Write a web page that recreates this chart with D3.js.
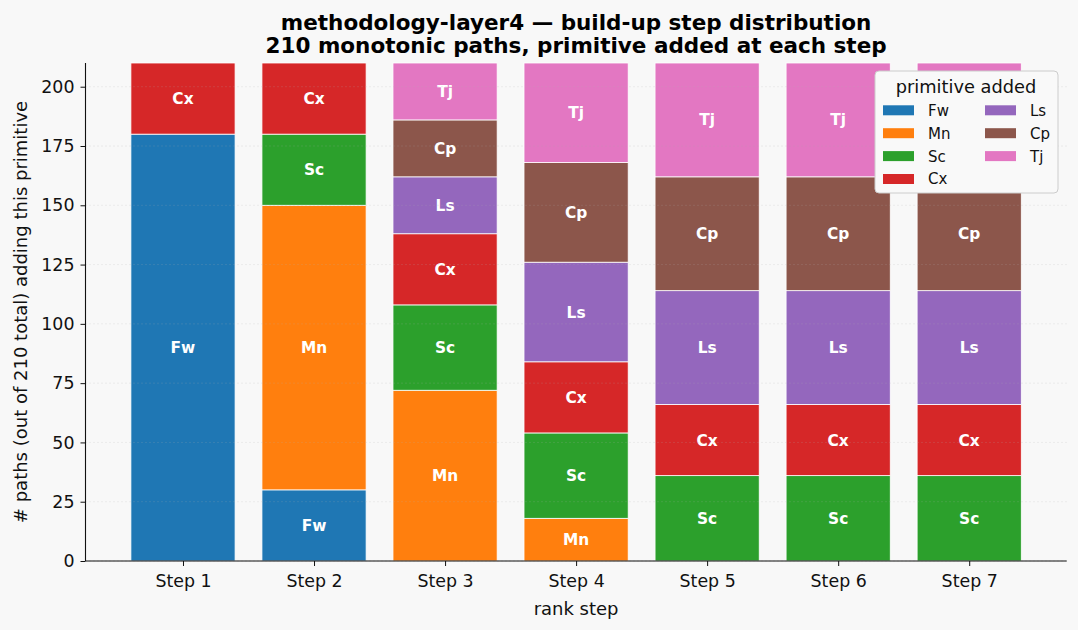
<!DOCTYPE html>
<html>
<head>
<meta charset="utf-8">
<script src="https://cdn.jsdelivr.net/npm/d3@7"></script>
<style>
  body { margin: 0; background: #f8f8f8; }
  svg { font-family: "DejaVu Sans", sans-serif; }
</style>
</head>
<body>
<div id="chart"></div>
<script>
// categories and series
const steps = ["Step 1", "Step 2", "Step 3", "Step 4", "Step 5", "Step 6", "Step 7"];
const primitives = ["Fw", "Mn", "Sc", "Cx", "Ls", "Cp", "Tj"];
const fwCounts = [180, 30, 0, 0, 0, 0, 0];
const mnCounts = [0, 120, 72, 18, 0, 0, 0];
const scCounts = [0, 30, 36, 36, 36, 36, 36];
const cxCounts = [30, 30, 30, 30, 30, 30, 30];
const lsCounts = [0, 0, 24, 42, 48, 48, 48];
const cpCounts = [0, 0, 24, 42, 48, 48, 48];
const tjCounts = [0, 0, 24, 42, 48, 48, 48];
const yTicks = [0, 25, 50, 75, 100, 125, 150, 175, 200];
const totalPaths = 210;

const colors = {
    Fw: "#1f77b4", Mn: "#ff7f0e", Sc: "#2ca02c", Cx: "#d62728",
    Ls: "#9467bd", Cp: "#8c564b", Tj: "#e377c2"
};

const seriesCounts = { Fw: fwCounts, Mn: mnCounts, Sc: scCounts, Cx: cxCounts, Ls: lsCounts, Cp: cpCounts, Tj: tjCounts };

// build rows for d3.stack
const rows = steps.map((s, i) => {
    let row = { step: s, idx: i };
    primitives.forEach(p => { row[p] = seriesCounts[p][i]; });
    return row;
});

const W = 1078, H = 630;
const margin = { top: 63, right: 11.3, bottom: 69, left: 85.5 };
const width = W - margin.left - margin.right;
const height = H - margin.top - margin.bottom;

let svg = d3.select("#chart")
    .append("svg")
    .attr("width", W)
    .attr("height", H);

svg.append("rect").attr("width", W).attr("height", H).attr("fill", "#f8f8f8");

let g = svg.append("g")
    .attr("transform", "translate(" + margin.left + "," + margin.top + ")");

// x is a linear scale over bar index, like matplotlib with 5% margins
let x = d3.scaleLinear().domain([-0.744, steps.length - 1 + 0.744]).range([0, width]);
let barW = x(0.795) - x(0);
let y = d3.scaleLinear().domain([0, totalPaths]).range([height, 0]);

let stacked = d3.stack().keys(primitives)(rows);

// bars
let layers = g.selectAll(".layer")
    .data(stacked)
    .enter()
    .append("g")
    .attr("fill", d => colors[d.key]);

layers.selectAll("rect")
    .data(d => d.filter(s => s[1] - s[0] > 0))
    .enter()
    .append("rect")
    .attr("x", d => x(d.data.idx) - barW / 2)
    .attr("y", d => y(d[1]))
    .attr("width", barW)
    .attr("height", d => y(d[0]) - y(d[1]))
    .attr("stroke", "#ffffff")
    .attr("stroke-width", 0.8);

// segment labels
stacked.forEach(layer => {
    layer.filter(s => s[1] - s[0] > 0).forEach(s => {
        g.append("text")
            .attr("x", x(s.data.idx))
            .attr("y", y((s[0] + s[1]) / 2))
            .attr("dy", "0.36em")
            .attr("text-anchor", "middle")
            .attr("fill", "#ffffff")
            .attr("font-weight", "bold")
            .attr("font-size", "15.4px")
            .text(layer.key);
    });
});

// dotted grid on top of bars
g.selectAll(".grid")
    .data(yTicks)
    .enter()
    .append("line")
    .attr("x1", 0)
    .attr("x2", width)
    .attr("y1", d => y(d))
    .attr("y2", d => y(d))
    .attr("stroke", "#b0b0b0")
    .attr("stroke-opacity", 0.45)
    .attr("stroke-width", 0.8)
    .attr("stroke-dasharray", "1,3");

// axes
let yAxis = g.append("g")
    .call(d3.axisLeft(y).tickValues(yTicks).tickSize(5).tickPadding(6));
let xAxis = g.append("g")
    .attr("transform", "translate(0," + height + ")")
    .call(d3.axisBottom(x).tickValues(d3.range(steps.length)).tickFormat(i => steps[i]).tickSize(5).tickPadding(9));

[xAxis, yAxis].forEach(a => {
    a.selectAll("text").attr("font-size", "17.4px").attr("fill", "#111").attr("font-family", "DejaVu Sans, sans-serif");
    a.selectAll("line").attr("stroke", "#111");
    a.select(".domain").attr("stroke", "#111").attr("stroke-width", 1.1);
});
// drop the outer tick stubs
xAxis.select(".domain").attr("d", "M0,0H" + width);
yAxis.select(".domain").attr("d", "M0," + height + "V0");

// axis titles
g.append("text")
    .attr("x", width / 2)
    .attr("y", height + 54)
    .attr("text-anchor", "middle")
    .attr("font-size", "18px")
    .attr("fill", "#111")
    .text("rank step");

g.append("text")
    .attr("transform", "rotate(-90)")
    .attr("x", -height / 2)
    .attr("y", -margin.left + 27)
    .attr("text-anchor", "middle")
    .attr("font-size", "18px")
    .attr("fill", "#111")
    .text("# paths (out of 210 total) adding this primitive");

// title
svg.append("text")
    .attr("x", margin.left + width / 2)
    .attr("y", 29.5)
    .attr("text-anchor", "middle")
    .attr("font-size", "21.5px")
    .attr("font-weight", "bold")
    .attr("fill", "#000")
    .text("methodology-layer4 \u2014 build-up step distribution");
svg.append("text")
    .attr("x", margin.left + width / 2)
    .attr("y", 52.5)
    .attr("text-anchor", "middle")
    .attr("font-size", "21.5px")
    .attr("font-weight", "bold")
    .attr("fill", "#000")
    .text("210 monotonic paths, primitive added at each step");

// legend (opaque, hides what's underneath)
let legend = svg.append("g").attr("transform", "translate(875,71)");
legend.append("rect")
    .attr("width", 183)
    .attr("height", 122)
    .attr("rx", 4)
    .attr("fill", "#f9f9f9")
    .attr("stroke", "#cccccc");
legend.append("text")
    .attr("x", 91)
    .attr("y", 21.5)
    .attr("text-anchor", "middle")
    .attr("font-size", "17.8px")
    .attr("fill", "#111")
    .text("primitive added");

let perCol = 4;
primitives.forEach((p, i) => {
    let col = Math.floor(i / perCol), row = i % perCol;
    let item = legend.append("g")
        .attr("transform", "translate(" + (8 + col * 102) + "," + (34.3 + row * 22.9) + ")");
    item.append("rect")
        .attr("width", 31)
        .attr("height", 10)
        .attr("fill", colors[p]);
    item.append("text")
        .attr("x", 45)
        .attr("y", 5)
        .attr("dy", "0.36em")
        .attr("font-size", "15px")
        .attr("fill", "#111")
        .text(p);
});
</script>
</body>
</html>
